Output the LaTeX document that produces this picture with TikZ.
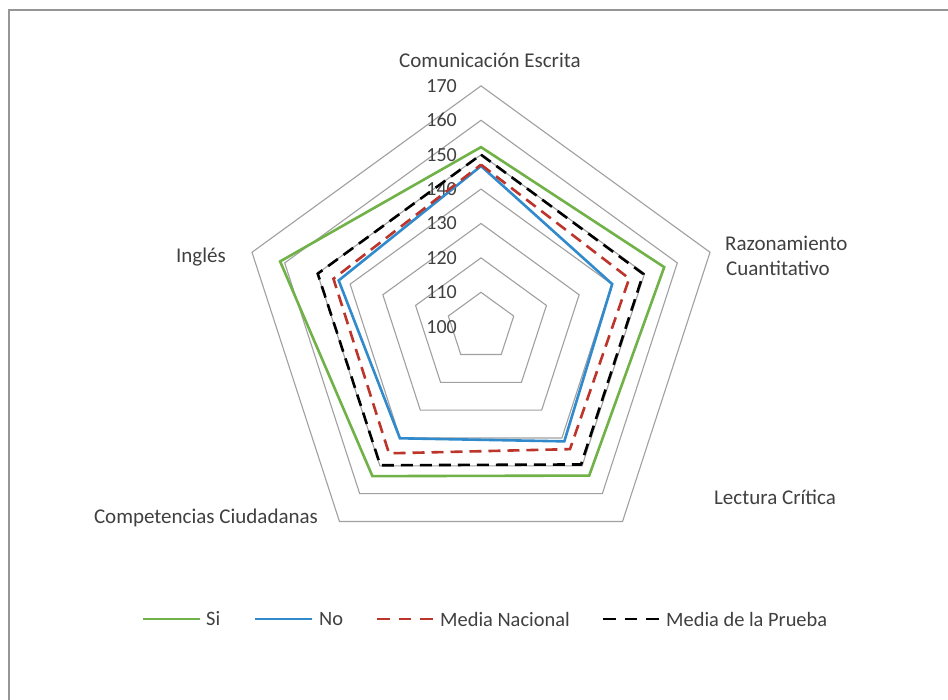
\documentclass[tikz,border=0pt]{standalone}
\usepackage{fontspec}
\setmainfont{Carlito}
\usetikzlibrary{calc}
\definecolor{gridc}{RGB}{160,160,160}
\definecolor{framec}{RGB}{150,150,150}
\definecolor{txtc}{RGB}{64,64,64}
\definecolor{sic}{RGB}{112,178,72}
\definecolor{noc}{RGB}{48,138,204}
\definecolor{mnc}{RGB}{188,52,42}
\tikzset{
  lbl/.style={text=txtc, font=\fontsize{21}{25}\selectfont, inner sep=0pt},
  leg/.style={text=txtc, font=\fontsize{20.4}{25}\selectfont, inner sep=0pt},
  tick/.style={text=txtc, font=\fontsize{20}{24}\selectfont, inner sep=0pt},
  gridline/.style={gridc, line width=1.1pt, line join=miter},
  series/.style={line width=2.6pt, line join=miter},
  sidash/.style={series, sic},
  nodash/.style={series, noc},
  mndash/.style={series, mnc, dash pattern=on 12pt off 7pt},
  mpdash/.style={series, black, dash pattern=on 12pt off 7pt}
}
\newcommand\radarline[6]{\draw[#1] ($(C)+(90:{(#2-100)*3.44})$) -- ($(C)+(18:{(#3-100)*3.44})$) -- ($(C)+(-54:{(#4-100)*3.44})$) -- ($(C)+(234:{(#5-100)*3.44})$) -- ($(C)+(162:{(#6-100)*3.44})$) -- cycle;}
\begin{document}
\begin{tikzpicture}[x=1pt,y=1pt]
\useasboundingbox (0,0) rectangle (948,700);
\fill[white] (0,0) rectangle (948,700);
\draw[framec, line width=2pt] (9,0) -- (9,690) -- (948,690);
\coordinate (C) at (481,373.3);
% grid rings
\foreach \v in {110,120,...,170} {
  \radarline{gridline}{\v}{\v}{\v}{\v}{\v}
}
% tick labels
\foreach \v in {100,110,...,170} {
  \pgfmathsetmacro\yy{373.3+(\v-100)*3.44}
  \node[tick, anchor=east] (t\v) at (457,\yy) {\v};
}
% series
\radarline{sidash}{152.2}{156}{153.5}{153.7}{161.4}
\radarline{nodash}{146.7}{140.1}{141.2}{140.1}{143.5}
\radarline{mndash}{147.1}{145.3}{144}{145.5}{145.1}
\radarline{mpdash}{150}{149.6}{149.5}{149.8}{149.9}
% axis labels
\node[lbl] (a1) at (490,640) {Comunicación Escrita};
\node[lbl, anchor=base west] (a2a) at (725,449) {Razonamiento};
\node[lbl, anchor=base west] (a2b) at (726,424) {Cuantitativo};
\node[lbl] (a3) at (775,203) {Lectura Crítica};
\node[lbl] (a4) at (206,182) {Competencias Ciudadanas};
\node[lbl] (a5) at (201,443) {Inglés};
% legend
\coordinate (l1a) at (143,81); \coordinate (l1b) at (200,81);
\draw[sidash, line width=2.6pt] (l1a) -- (l1b);
\node[leg, anchor=west] (g1) at (206,81) {Si};
\coordinate (l2a) at (255,81); \coordinate (l2b) at (312,81);
\draw[nodash, line width=2.6pt] (l2a) -- (l2b);
\node[leg, anchor=west] (g2) at (319,81) {No};
\coordinate (l3a) at (377,81); \coordinate (l3b) at (433,81);
\draw[mndash, line width=2.6pt, dash pattern=on 12.5pt off 9pt] (l3a) -- (l3b);
\node[leg, anchor=west] (g3) at (440,81) {Media Nacional};
\coordinate (l4a) at (603,81); \coordinate (l4b) at (659,81);
\draw[mpdash, line width=2.6pt, dash pattern=on 12.5pt off 9pt] (l4a) -- (l4b);
\node[leg, anchor=west] (g4) at (666,81) {Media de la Prueba};
\end{tikzpicture}
\end{document}
